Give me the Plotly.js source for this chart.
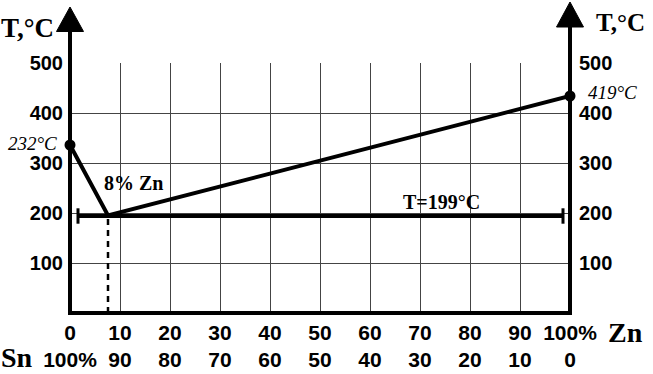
<!DOCTYPE html>
<html>
<head>
<meta charset="utf-8">
<script src="https://cdn.plot.ly/plotly-3.0.1.min.js"></script>
<style>html,body{margin:0;padding:0;background:#fff;}#chart{width:653px;height:374px;}</style>
</head>
<body>
<div id="chart"></div>
<script>
// Composition (% Zn) ticks and matching % Sn labels
const znTicks = [0, 10, 20, 30, 40, 50, 60, 70, 80, 90, 100];
const znLabels = ["0", "10", "20", "30", "40", "50", "60", "70", "80", "90", "100%"];
const snLabels = ["100%", "90", "80", "70", "60", "50", "40", "30", "20", "10", "0"];
const tTicks = [100, 200, 300, 400, 500];

// Liquidus line (positions)
const liquidusZn = [0, 7.6, 100];
const liquidusT = [336, 195, 434];
// Eutectic horizontal
const eutecticZn = [1.6, 98.6];
const eutecticT = [194, 194];
// Eutectic composition drop line
const dropZn = [7.6, 7.6];
const dropT = [0, 195];
// Melting points of pure metals
const pureZn = [0, 100];
const pureT = [336, 434];

const serif = "Liberation Serif, Times New Roman, serif";
const sans = "Liberation Sans, Arial, sans-serif";

const tickText = znLabels.map((z, i) => z + "<br>" + snLabels[i]);

const traces = [
  {x: dropZn, y: dropT, mode: "lines", line: {color: "#000", width: 2.5, dash: "6px,5px"}, hoverinfo: "skip"},
  {x: eutecticZn, y: eutecticT, mode: "lines+markers", line: {color: "#000", width: 4},
   marker: {symbol: "line-ns", size: 11, line: {color: "#000", width: 3}}, hoverinfo: "skip"},
  {x: liquidusZn, y: liquidusT, mode: "lines", line: {color: "#000", width: 4}, hoverinfo: "skip", cliponaxis: false},
  {x: pureZn, y: pureT, mode: "markers", marker: {color: "#000", size: 11}, cliponaxis: false, hoverinfo: "skip"},
  {x: [0], y: [0], yaxis: "y2", mode: "markers", marker: {opacity: 0}, hoverinfo: "skip"}
];

const ann = (x, y, text, size, ref) => ({
  xref: ref || "paper", yref: ref ? "y" : "paper", x: x, y: y, text: text, showarrow: false,
  xanchor: "center", yanchor: "middle", font: {family: serif, size: size, color: "#000"}
});

const layout = {
  width: 653, height: 374,
  margin: {l: 70, r: 83, t: 63, b: 61},
  paper_bgcolor: "#fff", plot_bgcolor: "#fff",
  showlegend: false,
  xaxis: {
    range: [0, 100], tickvals: znTicks, ticktext: tickText,
    showgrid: true, gridcolor: "#444", gridwidth: 1, zeroline: false, showline: false,
    ticks: "", ticklabelstandoff: 5, tickfont: {family: sans, size: 21, color: "#000", weight: "bold"}, fixedrange: true
  },
  yaxis: {
    range: [0, 500], tickvals: tTicks,
    showgrid: true, gridcolor: "#444", gridwidth: 1, zeroline: false, showline: false,
    ticks: "", ticklabelstandoff: 6, tickfont: {family: sans, size: 20, color: "#000", weight: "bold"}, fixedrange: true
  },
  yaxis2: {
    range: [0, 500], tickvals: tTicks, overlaying: "y", side: "right",
    showgrid: false, zeroline: false, showline: false,
    ticks: "", ticklabelstandoff: 8, tickfont: {family: sans, size: 20, color: "#000", weight: "bold"}, fixedrange: true
  },
  shapes: [
    {type: "line", xref: "paper", yref: "paper", x0: 0, x1: 0, y0: 0, y1: 1.14, line: {color: "#000", width: 4}},
    {type: "line", xref: "paper", yref: "paper", x0: 1, x1: 1, y0: 0, y1: 1.16, line: {color: "#000", width: 4}},
    {type: "line", xref: "paper", yref: "paper", x0: -0.004, x1: 1.004, y0: 0, y1: 0, line: {color: "#000", width: 4}},
    {type: "path", xref: "paper", yref: "paper", path: "M -0.027,1.126 L 0,1.224 L 0.027,1.126 Z", fillcolor: "#000", line: {color: "#000", width: 1}},
    {type: "path", xref: "paper", yref: "paper", path: "M 0.973,1.144 L 1,1.244 L 1.027,1.144 Z", fillcolor: "#000", line: {color: "#000", width: 1}}
  ],
  annotations: [
    ann(-0.086, 1.14, "<b>T,°C</b>", 27),
    ann(1.1, 1.164, "<b>T,°C</b>", 25),
    ann(-0.076, 0.68, "<i>232°C</i>", 19),
    ann(1.084, 0.884, "<i>419°C</i>", 19),
    ann(-0.106, -0.176, "<b>Sn</b>", 28),
    ann(1.11, -0.076, "<b>Zn</b>", 28),
    ann(12.7, 260, "<b>8% Zn</b>", 20, "x"),
    ann(74.2, 222, "<b>T=199°C</b>", 20, "x")
  ]
};

Plotly.newPlot("chart", traces, layout, {staticPlot: true, displayModeBar: false});
</script>
</body>
</html>
